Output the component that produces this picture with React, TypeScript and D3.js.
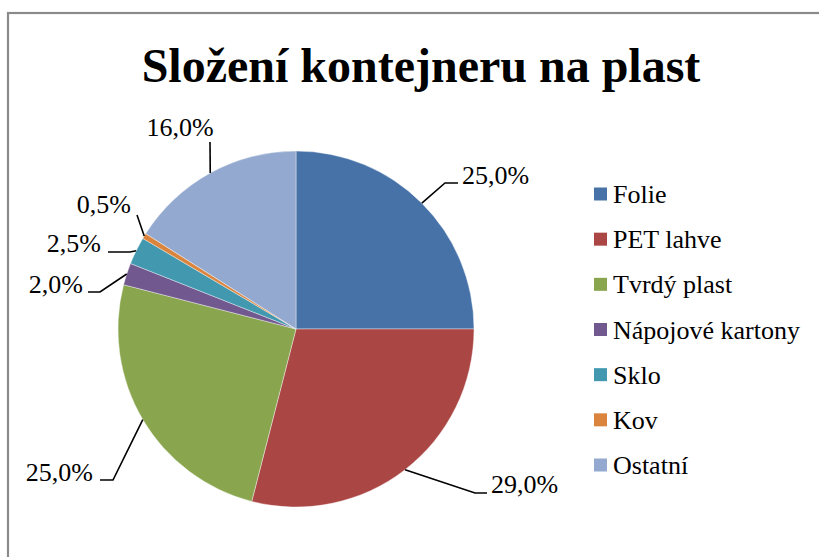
import React from "react";
import * as d3 from "d3";

const categories = ["Folie", "PET lahve", "Tvrdý plast", "Nápojové kartony", "Sklo", "Kov", "Ostatní"];
const values = [25.0, 29.0, 25.0, 2.0, 2.5, 0.5, 16.0];
const colors = ["#4672A8", "#AA4644", "#89A54E", "#71588F", "#4198AF", "#DB843D", "#93A9CF"];
const title = "Složení kontejneru na plast";

// label layout: elbow and end offsets relative to pie centre, text anchor
const labelLayout = [
  { elbow: [149, -146], end: [162, -146], tx: 166, ty: -145, anchor: "start" },
  { elbow: [179, 164], end: [191, 164], tx: 195, ty: 164, anchor: "start" },
  { elbow: [-183, 151], end: [-196, 151], tx: -203, ty: 152, anchor: "end" },
  { elbow: [-196, -37], end: [-208, -37], tx: -213, ty: -36, anchor: "end" },
  { elbow: [-166, -77], end: [-188, -77], tx: -195, ty: -77, anchor: "end" },
  { elbow: null, end: [-159, -114], tx: -165, ty: -116, anchor: "end" },
  { elbow: null, end: [-86, -187], tx: -116, ty: -193, anchor: "middle" },
];

const W = 819, H = 557;
const cx = 296, cy = 329, R = 178;
const fontFam = "'Liberation Serif', 'Times New Roman', serif";

export default function App() {
  const pie = d3.pie<number>().sort(null).value((d) => d)(values);
  const arc = d3.arc<d3.PieArcDatum<number>>().innerRadius(0).outerRadius(R);
  const fmt = (v: number) => v.toFixed(1).replace(".", ",") + "%";
  const legendY = d3.scalePoint<string>().domain(categories).range([194, 465]);

  return (
    <svg width={W} height={H} style={{ position: "absolute", left: 0, top: 0, background: "#fff" }}>
      <rect x={0} y={0} width={W} height={H} fill="#fff" />
      <rect x={8} y={13} width={900} height={700} fill="#fff" stroke="#8a8a8a" strokeWidth={2.2} />
      <text x={421} y={82} textAnchor="middle" fontFamily={fontFam} fontWeight="bold" fontSize={48} fill="#000">
        {title}
      </text>
      <g transform={`translate(${cx},${cy})`}>
        {pie.map((p, i) => (
          <path key={i} d={arc(p) || ""} fill={colors[i]} stroke="#fff" strokeWidth={0.4} />
        ))}
        {pie.map((p, i) => {
          const mid = (p.startAngle + p.endAngle) / 2;
          const sx = R * Math.sin(mid);
          const sy = -R * Math.cos(mid);
          const L = labelLayout[i];
          const pts = [[sx, sy]];
          if (L.elbow) pts.push(L.elbow as number[]);
          pts.push(L.end);
          const line = d3.line()(pts as [number, number][]) || "";
          return (
            <g key={"l" + i}>
              <path d={line} fill="none" stroke="#000" strokeWidth={1.6} />
              <text x={L.tx} y={L.ty} textAnchor={L.anchor as any} fontFamily={fontFam} fontSize={26} fill="#000">
                {fmt(values[i])}
              </text>
            </g>
          );
        })}
      </g>
      <g>
        {categories.map((c, i) => {
          const y = legendY(c) as number;
          return (
            <g key={c}>
              <rect x={594} y={y - 6.5} width={13} height={13} fill={colors[i]} />
              <text x={613} y={y + 9} fontFamily={fontFam} fontSize={26} fill="#000">
                {c}
              </text>
            </g>
          );
        })}
      </g>
    </svg>
  );
}
